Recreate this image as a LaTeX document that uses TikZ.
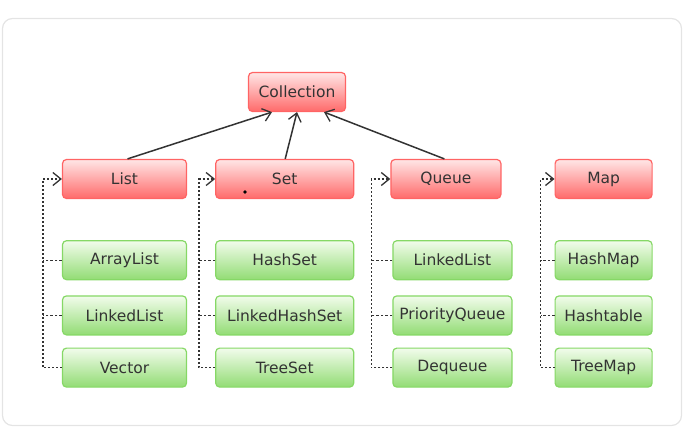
\documentclass[tikz,border=0pt]{standalone}
\usepackage{fontspec}
\setmainfont{DejaVu Sans}
\usetikzlibrary{positioning, arrows.meta}
\definecolor{framegray}{HTML}{E4E4E4}
\definecolor{inkgray}{HTML}{333333}
\definecolor{ifaceline}{HTML}{FF6464}
\definecolor{ifacetop}{HTML}{FFE6E6}
\definecolor{ifacebot}{HTML}{FF6A6A}
\definecolor{classline}{HTML}{86D866}
\definecolor{classtop}{HTML}{F2FCEC}
\definecolor{classbot}{HTML}{92DC74}
\tikzset{
    >={Straight Barb[length=8pt, width=13pt, line width=1.3pt]}, % open arrow heads
    x=1pt, y=-1pt, % work in pixels of the picture, y going down
    box/.style={rounded corners=4pt, line width=1.2pt, minimum height=39pt,
        inner sep=0pt, text=inkgray, font=\fontsize{15.5}{18}\selectfont}, % every box
    iface/.style={box, draw=ifaceline, top color=ifacetop, bottom color=ifacebot}, % red interfaces
    cls/.style={box, draw=classline, top color=classtop, bottom color=classbot}, % green classes
    extends/.style={->, draw=inkgray, line width=1.5pt}, % solid arrow up to Collection
    realizes/.style={->, draw=inkgray, line width=1.3pt, dash pattern=on 2pt off 2pt}, % dotted arrow
    tick/.style={draw=inkgray, line width=1.3pt, dash pattern=on 2.5pt off 2pt}, % dotted branch
}

\begin{document}
\begin{tikzpicture}
    \useasboundingbox (0,0) rectangle (683,433);
    \draw[framegray, line width=1.2pt, rounded corners=10pt] (2.5,18.5) rectangle (681.5,425.5);

    % interfaces
    \node[iface, minimum width=97pt] (collection) at (297,92) {Collection};
    \node[iface, minimum width=124pt] (list) at (124.5,179) {List};
    \node[iface, minimum width=138pt, right=28pt of list] (set) {Set};
    \node[iface, minimum width=110pt, right=36pt of set] (queue) {Queue};
    \node[iface, minimum width=97pt, right=53pt of queue] (map) {Map};

    % classes under List
    \node[cls, minimum width=124pt, below=41pt of list] (arraylist) {ArrayList};
    \node[cls, minimum width=124pt, below=15pt of arraylist] (linkedlist) {LinkedList};
    \node[cls, minimum width=124pt, below=12pt of linkedlist] (vector) {Vector};

    % classes under Set
    \node[cls, minimum width=138pt, below=41pt of set] (hashset) {HashSet};
    \node[cls, minimum width=138pt, below=15pt of hashset] (linkedhashset) {LinkedHashSet};
    \node[cls, minimum width=138pt, below=12pt of linkedhashset] (treeset) {TreeSet};

    % classes under Queue
    \node[cls, minimum width=119pt, below=41pt of queue.south west, anchor=north west, xshift=2pt] (linkedlistq) {LinkedList};
    \node[cls, minimum width=119pt, below=15pt of linkedlistq] (priorityqueue) {PriorityQueue};
    \node[cls, minimum width=119pt, below=12pt of priorityqueue] (dequeue) {Dequeue};

    % classes under Map
    \node[cls, minimum width=97pt, below=41pt of map] (hashmap) {HashMap};
    \node[cls, minimum width=97pt, below=15pt of hashmap] (hashtable) {Hashtable};
    \node[cls, minimum width=97pt, below=12pt of hashtable] (treemap) {TreeMap};

    % up to Collection
    \draw[extends] ([xshift=3pt]list.north) -- ([xshift=-25pt]collection.south);
    \draw[extends] ([xshift=0.5pt]set.north) -- (collection.south);
    \draw[extends] ([xshift=-1.5pt]queue.north) -- ([xshift=27pt]collection.south);

    % trunks of the dotted arrows
    \coordinate (listbus) at ([xshift=-19pt]list.west);
    \coordinate (setbus) at ([xshift=-16pt]set.west);
    \coordinate (queuebus) at ([xshift=-19pt]queue.west);
    \coordinate (mapbus) at ([xshift=-14pt]map.west);

    \draw[realizes] (vector.west) -| (listbus) -- (list.west);
    \draw[tick] (arraylist.west) -- (arraylist.west -| listbus);
    \draw[tick] (linkedlist.west) -- (linkedlist.west -| listbus);

    \draw[realizes] (treeset.west) -| (setbus) -- (set.west);
    \draw[tick] (hashset.west) -- (hashset.west -| setbus);
    \draw[tick] (linkedhashset.west) -- (linkedhashset.west -| setbus);

    \draw[realizes] (dequeue.west) -| (queuebus) -- (queue.west);
    \draw[tick] (linkedlistq.west) -- (linkedlistq.west -| queuebus);
    \draw[tick] (priorityqueue.west) -- (priorityqueue.west -| queuebus);

    \draw[realizes] (treemap.west) -| (mapbus) -- (map.west);
    \draw[tick] (hashmap.west) -- (hashmap.west -| mapbus);
    \draw[tick] (hashtable.west) -- (hashtable.west -| mapbus);

    % stray dot inside Set
    \fill[black] (245,192) circle (1.8pt);
\end{tikzpicture}
\end{document}
